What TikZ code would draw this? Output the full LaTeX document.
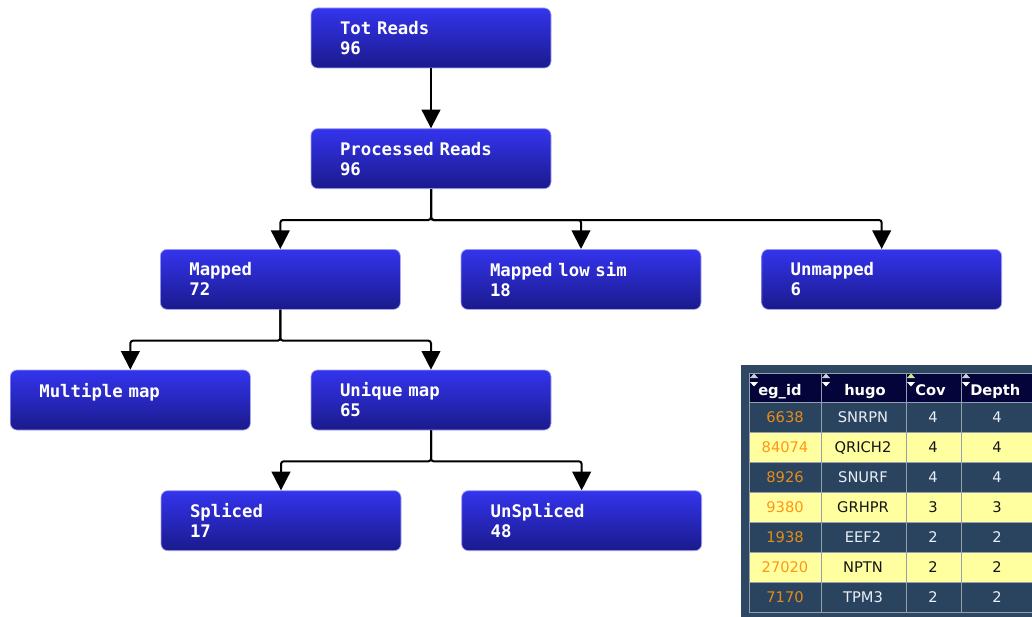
\documentclass[tikz,border=0pt]{standalone}
\usepackage{fontspec}
\usepackage{xcolor}
\usepackage{tikz}
\usetikzlibrary{arrows.meta,positioning}
\newfontfamily\boxfont{DejaVu Sans Mono}
\newfontfamily\tabfont{DejaVu Sans}
\newcommand\boxtype{\boxfont\bfseries\fontsize{13}{15}\selectfont}
\definecolor{boxtop}{RGB}{52,52,238}
\definecolor{boxbot}{RGB}{26,26,140}
\definecolor{tabframe}{RGB}{46,72,100}
\definecolor{tabdark}{RGB}{42,68,96}
\definecolor{tabyel}{RGB}{255,255,160}
\definecolor{tabhead}{RGB}{4,4,58}
\definecolor{tabgrid}{RGB}{150,160,172}
\definecolor{iddark}{RGB}{228,140,24}
\definecolor{idyel}{RGB}{255,150,20}
\definecolor{valdark}{RGB}{232,238,245}
\definecolor{valyel}{RGB}{20,20,20}
\definecolor{sortgrey}{RGB}{200,205,215}
\definecolor{sortgreen}{RGB}{205,235,140}

\begin{document}
\begin{tikzpicture}[x=0.75pt, y=-0.75pt,
  stat/.style={rectangle, rounded corners=5pt, draw=boxtop!45!white, line width=0.5pt,
    top color=boxtop, bottom color=boxbot, text=white, minimum width=180pt,
    minimum height=45pt, text width=136.5pt, inner xsep=21.75pt, align=left,
    font=\boxtype},
  arr/.style={-{Triangle[length=14pt,width=14pt]}, line width=1.5pt, black, rounded corners=2pt},
  cell/.style={fill=tab#1},
  idtxt/.style={text=id#1, font=\tabfont\fontsize{11}{12}\selectfont},
  valtxt/.style={text=val#1, font=\tabfont\fontsize{11}{12}\selectfont},
  head/.style={anchor=base west, inner sep=0pt, text=white, font=\tabfont\bfseries\fontsize{11}{12}\selectfont},
  grid/.style={draw=tabgrid, line width=0.75pt}
]
\useasboundingbox (0,0) rectangle (1032,617);

% flow boxes
\node[stat] (tot) at (431,38) {Tot Reads\\96};
\node[stat, below=45pt of tot] (proc) {Processed Reads\\96};
\node[stat, below=45pt of proc, xshift=112.5pt] (low) {Mapped low sim\\18};
\node[stat, left=45pt of low] (map) {Mapped\\72};
\node[stat, right=45pt of low] (unm) {Unmapped\\6};
\node[stat, below=45pt of map, xshift=-112.5pt] (multi) {Multiple map\\\mbox{}};
\node[stat, right=45pt of multi] (uniq) {Unique map\\65};
\node[stat, below=45pt of uniq, xshift=-112.5pt] (spl) {Spliced\\17};
\node[stat, right=45pt of spl] (unspl) {UnSpliced\\48};

% connectors
\draw[arr] (tot) -- (proc);
\draw[arr] (proc.south) -- ++(0,31) -| (map.north);
\draw[arr] (proc.south) -- ++(0,31) -| (low.north);
\draw[arr] (proc.south) -- ++(0,31) -| (unm.north);
\draw[arr] (map.south) -- ++(0,31) -| (multi.north);
\draw[arr] (map.south) -- ++(0,31) -| (uniq.north);
\draw[arr] (uniq.south) -- ++(0,31) -| (spl.north);
\draw[arr] (uniq.south) -- ++(0,31) -| (unspl.north);

% gene table
\fill[tabframe] (741,365) rectangle (1040,625);
\fill[tabhead] (749,373) rectangle (1040,402);
\foreach \tone/\id/\hg/\cv/\dp [count=\i] in {dark/6638/SNRPN/4/4, yel/84074/QRICH2/4/4,
    dark/8926/SNURF/4/4, yel/9380/GRHPR/3/3, dark/1938/EEF2/2/2, yel/27020/NPTN/2/2,
    dark/7170/TPM3/2/2} {
  \fill[cell=\tone] (749,372+30*\i) rectangle (1040,402+30*\i);
  \node[idtxt=\tone] (id\i) at (785,387+30*\i) {\id};
  \node[valtxt=\tone] (hg\i) at (863,387+30*\i) {\hg};
  \node[valtxt=\tone] (cv\i) at (933,387+30*\i) {\cv};
  \node[valtxt=\tone] (dp\i) at (997,387+30*\i) {\dp};
}
\foreach \gx in {821,906,961} \draw[grid] (\gx,373) -- (\gx,612);
\foreach \gy in {402,432,...,582} \draw[grid] (749,\gy) -- (1040,\gy);
\draw[grid] (749,373) rectangle (1040,612);

% header
\foreach \tx/\upc in {750/sortgrey, 822/sortgrey, 907/sortgreen, 962/sortgrey} {
  \fill[fill=\upc] (\tx,378) -- (\tx+8,378) -- (\tx+4,373.5) -- cycle;
  \fill[white] (\tx,382) -- (\tx+8,382) -- (\tx+4,386.5) -- cycle;
}
\node[head] (hid) at (758,395) {eg\_id};
\node[head] (hhg) at (844,395) {hugo};
\node[head] (hcv) at (915,395) {Cov};
\node[head] (hdp) at (970,395) {Depth};
\end{tikzpicture}
\end{document}
